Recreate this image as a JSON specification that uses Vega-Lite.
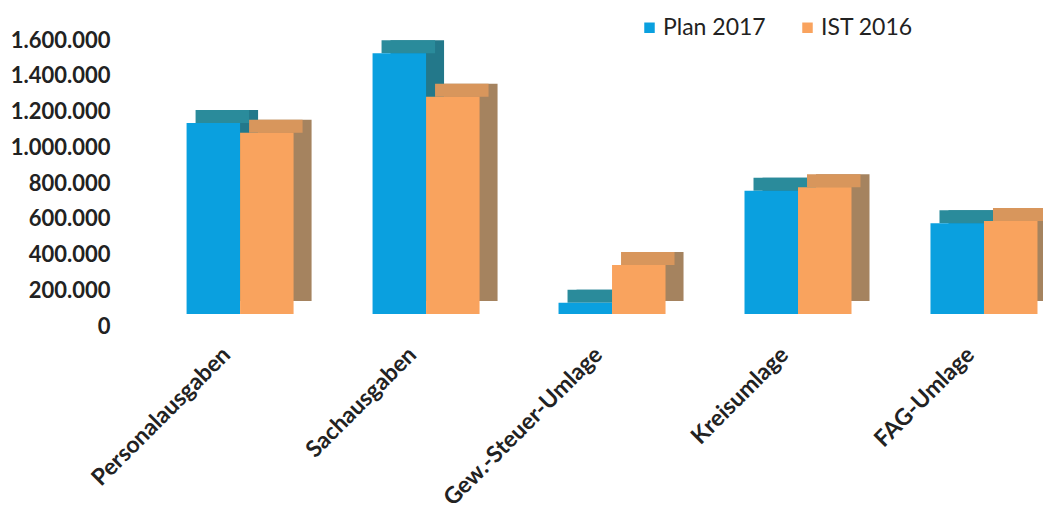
{
  "$schema": "https://vega.github.io/schema/vega-lite/v6.json",
  "width": 862,
  "height": 286,
  "autosize": {"type": "none"},
  "padding": {"left": 181, "top": 40, "right": 0, "bottom": 189},
  "background": "white",
  "config": {"view": {"stroke": null}, "font": "Lato"},
  "data": {
    "values": [
      {"cat": "Personalausgaben", "series": "Plan 2017", "value": 1136000},
      {"cat": "Personalausgaben", "series": "IST 2016", "value": 1081000},
      {"cat": "Sachausgaben", "series": "Plan 2017", "value": 1526000},
      {"cat": "Sachausgaben", "series": "IST 2016", "value": 1283000},
      {"cat": "Gew.-Steuer-Umlage", "series": "Plan 2017", "value": 130000},
      {"cat": "Gew.-Steuer-Umlage", "series": "IST 2016", "value": 341000},
      {"cat": "Kreisumlage", "series": "Plan 2017", "value": 757000},
      {"cat": "Kreisumlage", "series": "IST 2016", "value": 776000},
      {"cat": "FAG-Umlage", "series": "Plan 2017", "value": 575000},
      {"cat": "FAG-Umlage", "series": "IST 2016", "value": 587000}
    ]
  },
  "encoding": {
    "x": {
      "field": "cat",
      "type": "nominal",
      "sort": ["Personalausgaben", "Sachausgaben", "Gew.-Steuer-Umlage", "Kreisumlage", "FAG-Umlage"],
      "scale": {"paddingInner": 0.425, "paddingOuter": 0.03},
      "axis": {
        "title": null,
        "domain": false,
        "ticks": false,
        "labelAngle": -45,
        "labelPadding": 17,
        "labelOffset": -21,
        "labelLimit": 0,
        "labelFontSize": 23,
        "labelFontWeight": "bold",
        "labelColor": "#222222"
      }
    },
    "y": {
      "field": "value",
      "type": "quantitative",
      "scale": {"domain": [0, 1600000]},
      "axis": {
        "title": null,
        "domain": false,
        "ticks": false,
        "grid": false,
        "offset": 63,
        "labelPadding": 8,
        "values": [0, 200000, 400000, 600000, 800000, 1000000, 1200000, 1400000, 1600000],
        "format": ",d",
        "labelExpr": "replace(replace(datum.label, ',', '.'), ',', '.')",
        "labelFontSize": 22,
        "labelFontWeight": "bold",
        "labelColor": "#222222"
      }
    }
  },
  "layer": [
    {
      "mark": {"type": "bar", "yOffset": -13, "y2Offset": -25},
      "encoding": {
        "y2": {"datum": 0},
        "xOffset": {
          "field": "series",
          "sort": ["Plan 2017", "IST 2016"],
          "scale": {"domain": ["Plan 2017", "IST 2016"], "range": [18, 125], "paddingInner": 0, "paddingOuter": 0}
        },
        "color": {
          "field": "series",
          "scale": {"domain": ["Plan 2017", "IST 2016"], "range": ["#23788a", "#a5835f"]},
          "legend": null
        }
      }
    },
    {
      "mark": {"type": "bar", "yOffset": -13, "y2Offset": 0},
      "encoding": {
        "xOffset": {
          "field": "series",
          "sort": ["Plan 2017", "IST 2016"],
          "scale": {"domain": ["Plan 2017", "IST 2016"], "range": [9, 116], "paddingInner": 0, "paddingOuter": 0}
        },
        "y2": {"field": "value"},
        "color": {
          "field": "series",
          "scale": {"domain": ["Plan 2017", "IST 2016"], "range": ["#2a8b9b", "#d8965c"]},
          "legend": null
        }
      }
    },
    {
      "mark": {"type": "bar", "y2Offset": -12},
      "encoding": {
        "y2": {"datum": 0},
        "xOffset": {
          "field": "series",
          "sort": ["Plan 2017", "IST 2016"],
          "scale": {"domain": ["Plan 2017", "IST 2016"], "range": [0, 107], "paddingInner": 0, "paddingOuter": 0}
        },
        "color": {
          "field": "series",
          "sort": ["Plan 2017", "IST 2016"],
          "scale": {"domain": ["Plan 2017", "IST 2016"], "range": ["#0aa0df", "#f9a35e"]},
          "legend": {
            "title": null,
            "orient": "none",
            "direction": "horizontal",
            "legendX": 457,
            "legendY": -24,
            "symbolType": "square",
            "symbolSize": 110,
            "symbolStrokeWidth": 0,
            "labelFontSize": 23,
            "labelColor": "#222222",
            "labelOffset": 2,
            "columnPadding": 30
          }
        }
      }
    }
  ],
  "resolve": {"scale": {"color": "independent", "xOffset": "independent"}}
}
